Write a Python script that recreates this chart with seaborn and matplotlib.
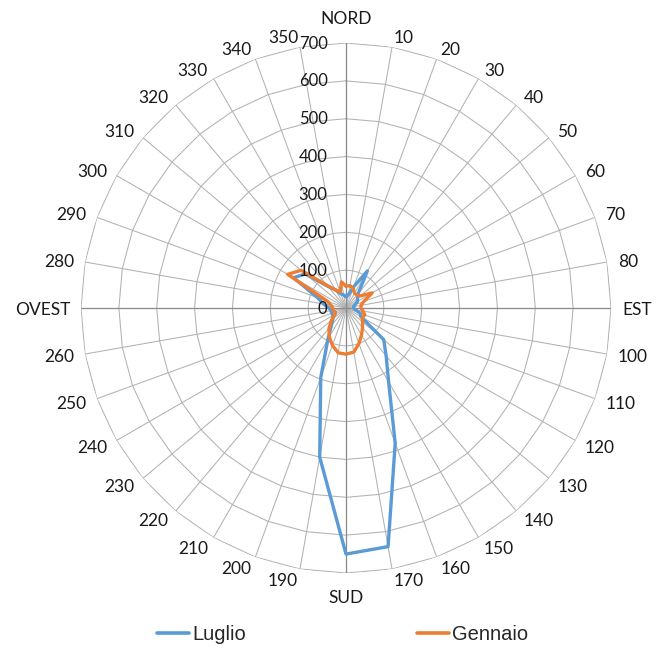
import numpy as np
import pandas as pd
import matplotlib
matplotlib.use("Agg")
import matplotlib.pyplot as plt
from matplotlib.transforms import offset_copy
import seaborn as sns

# Wind direction bearings (degrees, clockwise from north)
directions = list(range(0, 360, 10))

# Frequency per direction sector
luglio = [30, 35, 60, 113, 50, 40, 35, 25, 20, 20,
          25, 40, 45, 130, 165, 225, 380, 640, 650, 400,
          195, 96, 60, 45, 40, 40, 40, 45, 60, 80,
          160, 140, 75, 55, 40, 35]
gennaio = [58, 60, 55, 45, 45, 50, 80, 50, 40, 40,
           45, 53, 50, 57, 68, 82, 100, 118, 122, 120,
           105, 88, 70, 50, 33, 30, 35, 35, 40, 52,
           178, 155, 78, 55, 45, 70]

angle_labels = ["NORD", "10", "20", "30", "40", "50", "60", "70", "80", "EST",
                "100", "110", "120", "130", "140", "150", "160", "170", "SUD", "190",
                "200", "210", "220", "230", "240", "250", "260", "OVEST", "280", "290",
                "300", "310", "320", "330", "340", "350"]
radial_ticks = [0, 100, 200, 300, 400, 500, 600, 700]

series_names = ["Luglio", "Gennaio"]
series_colors = ["#5B9BD5", "#ED7D31"]

sns.set_style("white")
plt.rcParams["font.family"] = ["Lato", "DejaVu Sans"]

fig = plt.figure(figsize=(6.56, 6.53), dpi=100)
ax = fig.add_axes([0.1227, 0.1225, 0.8095, 0.8116], projection="polar")
ax.set_theta_zero_location("N")
ax.set_theta_direction(-1)
rmax = radial_ticks[-1]
ax.set_ylim(0, rmax)

grid_col = "#b2b2b2"
axis_col = "#8a8a8a"

# spokes (theta grid), polygonal rings drawn separately
ax.set_xticks(np.deg2rad(directions))
ax.set_xticklabels([])
ax.set_yticks([])
ax.xaxis.grid(True, color=grid_col, linewidth=0.75)
ax.yaxis.grid(False)
ax.spines["polar"].set_visible(False)

ring_theta = np.deg2rad(directions + [directions[0] + 360])
for r in radial_ticks[1:]:
    ax.plot(ring_theta, [r] * len(ring_theta), color=grid_col, linewidth=0.75, zorder=1)
for d in [0, 90, 180, 270]:
    ax.plot([np.deg2rad(d)] * 2, [0, rmax], color=axis_col, linewidth=0.9, zorder=1)

# data series
frames = []
for name, vals in zip(series_names, [luglio, gennaio]):
    frames.append(pd.DataFrame({"theta": ring_theta, "valore": vals + [vals[0]], "serie": name}))
df = pd.concat(frames, ignore_index=True)

sns.lineplot(data=df, x="theta", y="valore", hue="serie", palette=series_colors,
             sort=False, estimator=None, linewidth=2.4, ax=ax, legend=False,
             zorder=5)
ax.set_xlabel("")
ax.set_ylabel("")

# direction labels around the outer ring
for d, lab in zip(directions, angle_labels):
    t = np.deg2rad(d)
    s, c = np.sin(t), np.cos(t)
    if d == 0:
        dx, dy, ha = 0, 24.5, "center"
    elif d == 180:
        dx, dy, ha = 0, -24.5, "center"
    else:
        dx, dy = 11 * s, 11 * c - 1.5
        ha = "left" if s > 0 else "right"
    tr = offset_copy(ax.transData, fig=fig, x=dx, y=dy, units="dots")
    ax.text(t, rmax, lab, transform=tr, ha=ha, va="center", fontsize=12.5,
            color="#1a1a1a")

# value labels along the north axis
for r in radial_ticks:
    tr = offset_copy(ax.transData, fig=fig, x=-18.5, y=-0.5, units="dots")
    ax.text(0, r, str(r), transform=tr, ha="right", va="center", fontsize=12,
            color="#1a1a1a", zorder=6)

handles = [plt.Line2D([], [], color=c, linewidth=2.6) for c in series_colors]
fig.legend(handles, series_names, loc="center left", bbox_to_anchor=(0.2393, 0.0276),
           ncol=2, frameon=False, borderpad=0, borderaxespad=0, handlelength=1.6,
           handletextpad=0.15, columnspacing=8.5,
           prop={"family": "Liberation Sans", "size": 14.5})

fig.savefig("out.png", dpi=100, facecolor="white")
